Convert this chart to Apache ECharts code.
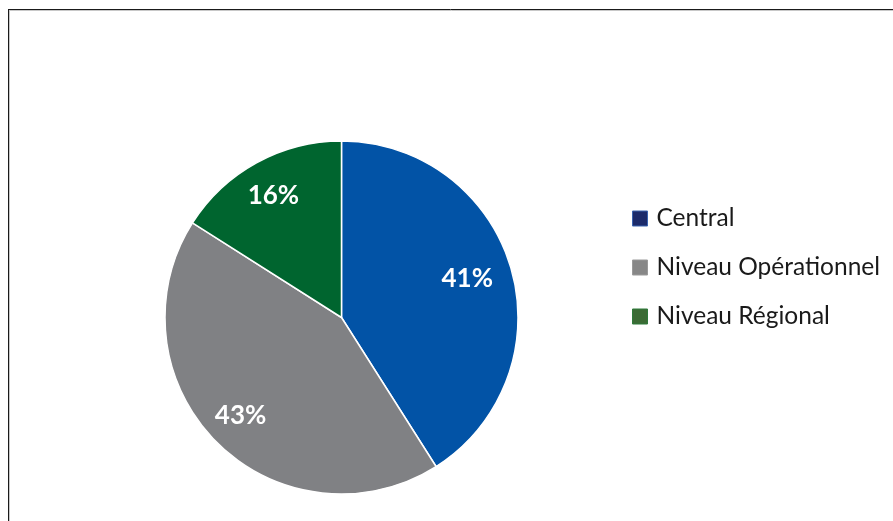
<!DOCTYPE html>
<html>
<head>
<meta charset="utf-8">
<script src="https://cdn.jsdelivr.net/npm/echarts@6/dist/echarts.min.js"></script>
<style>
html,body{margin:0;padding:0;background:#fff;}
#c{width:893px;height:521px;}
</style>
</head>
<body>
<div id="c"></div>
<script>
const categories = ['Central', 'Niveau Opérationnel', 'Niveau Régional'];
const values = [41, 43, 16];
const sliceColors = ['#0253a6', '#808184', '#00652f'];
const legendColors = ['#1c2b6b', '#878787', '#3b6b34'];
const legendBorders = ['#3a64b0', '#9a9a9a', '#2e7a3a'];
const labelPads = [[0, 16, 14, 0], [0, 5, 2, 0], [14, 2, 0, 0]];

const chart = echarts.init(document.getElementById('c'), null, {renderer: 'canvas'});
const cx = 341.5, cy = 317.5, R = 176.5;
const fontFam = 'Lato, "Open Sans", sans-serif';

chart.setOption({
  animation: false,
  backgroundColor: '#ffffff',
  graphic: [
    {type: 'line', shape: {x1: 10, y1: 10.5, x2: 893, y2: 10.5}, style: {stroke: '#c8c8c8', lineWidth: 1}, silent: true},
    {type: 'line', shape: {x1: 9.5, y1: 10, x2: 9.5, y2: 521}, style: {stroke: '#c8c8c8', lineWidth: 1}, silent: true},
    {type: 'line', shape: {x1: 8, y1: 9.5, x2: 893, y2: 9.5}, style: {stroke: '#1a1a1a', lineWidth: 1}, silent: true},
    {type: 'line', shape: {x1: 8.5, y1: 9, x2: 8.5, y2: 521}, style: {stroke: '#1a1a1a', lineWidth: 1}, silent: true}
  ],
  legend: {
    orient: 'vertical',
    left: 632,
    top: 206,
    padding: 0,
    icon: 'rect',
    itemWidth: 15,
    itemHeight: 15,
    itemGap: 24,
    data: categories.map((n, i) => ({
      name: n,
      itemStyle: {color: legendColors[i], borderColor: legendBorders[i], borderWidth: 1}
    })),
    textStyle: {fontFamily: fontFam, fontSize: 24.5, color: '#1a1a1a', padding: [0, 0, 0, 4]}
  },
  series: [
    {
      type: 'pie',
      center: [cx, cy],
      radius: [0, R],
      startAngle: 90,
      clockwise: true,
      avoidLabelOverlap: false,
      label: {show: false},
      labelLine: {show: false},
      emphasis: {disabled: true},
      itemStyle: {borderColor: '#ffffff', borderWidth: 1.5},
      data: categories.map((n, i) => ({name: n, value: values[i], itemStyle: {color: sliceColors[i]}}))
    },
    {
      type: 'pie',
      center: [cx, cy],
      radius: [96, R],
      startAngle: 90,
      clockwise: true,
      silent: true,
      legendHoverLink: false,
      avoidLabelOverlap: false,
      emphasis: {disabled: true},
      label: {
        show: true,
        position: 'inside',
        formatter: p => p.value + '%',
        color: '#ffffff',
        fontFamily: fontFam,
        fontWeight: 'bold',
        fontSize: 26
      },
      labelLine: {show: false},
      itemStyle: {color: 'rgba(0,0,0,0)', borderWidth: 0},
      data: categories.map((n, i) => ({name: n, value: values[i], label: {padding: labelPads[i]}}))
    }
  ]
});
</script>
</body>
</html>
